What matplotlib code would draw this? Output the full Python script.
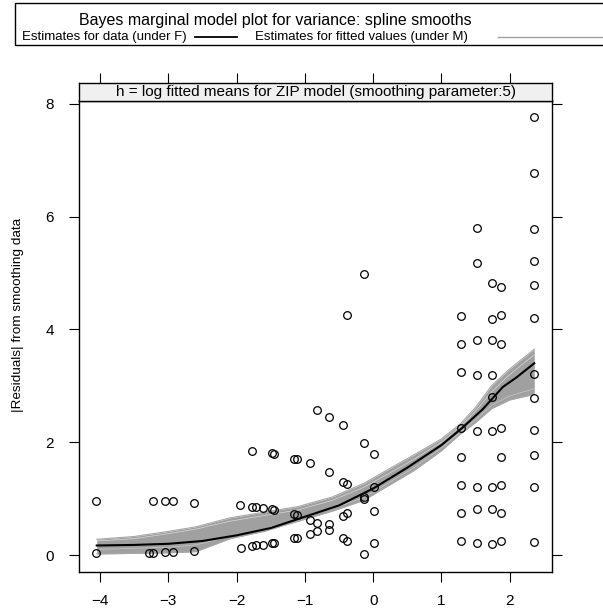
"""
Bayes marginal model plot for variance (lattice-style panel)
"""
import matplotlib
matplotlib.use("Agg")
import matplotlib.pyplot as plt
from matplotlib.patches import Rectangle
from matplotlib.lines import Line2D

plt.rcParams['font.family'] = ['Liberation Sans', 'DejaVu Sans']

# observed |residuals| vs log fitted means
x_obs = [-4.06, -4.06,
         -3.29, -3.23, -3.23, -3.05, -3.05, -2.93, -2.93, -2.63, -2.63,
         -1.95, -1.94, -1.77, -1.77, -1.71, -1.61, -1.48, -1.45,
         -1.77, -1.71, -1.61, -1.48, -1.45, -1.48, -1.45,
         -1.16, -1.11, -1.16, -1.11, -1.16, -1.11,
         -0.92, -0.92, -0.92, -0.82, -0.82, -0.82,
         -0.64, -0.64, -0.64, -0.64,
         -0.44, -0.44, -0.39, -0.44, -0.39, -0.44, -0.39, -0.39,
         -0.14, -0.14, -0.14, -0.14, -0.14,
         0.01, 0.01, 0.01, 0.01,
         1.28, 1.28, 1.28, 1.28, 1.28, 1.28, 1.28, 1.28,
         1.52, 1.52, 1.52, 1.52, 1.52, 1.52, 1.52, 1.52,
         1.74, 1.74, 1.74, 1.74, 1.74, 1.74, 1.74, 1.74, 1.74,
         1.87, 1.87, 1.87, 1.87, 1.87, 1.87, 1.87, 1.87,
         2.36, 2.36, 2.36, 2.36, 2.36, 2.36, 2.36, 2.36, 2.36, 2.36, 2.36, 2.36]
y_obs = [0.96, 0.04,
         0.04, 0.04, 0.96, 0.96, 0.05, 0.96, 0.05, 0.93, 0.07,
         0.88, 0.12, 1.85, 0.86, 0.85, 0.83, 0.81, 0.80,
         0.16, 0.17, 0.18, 0.21, 0.21, 1.81, 1.80,
         1.71, 1.70, 0.73, 0.71, 0.30, 0.30,
         1.63, 0.62, 0.38, 2.57, 0.57, 0.43,
         2.45, 1.47, 0.55, 0.45,
         2.30, 1.30, 1.26, 0.69, 0.74, 0.31, 0.25, 4.26,
         4.99, 1.99, 1.03, 0.99, 0.02,
         1.79, 1.21, 0.79, 0.21,
         4.24, 3.74, 3.24, 2.25, 1.74, 1.24, 0.74, 0.25,
         5.80, 5.18, 3.81, 3.19, 2.20, 1.21, 0.82, 0.21,
         4.82, 4.18, 3.81, 3.19, 2.81, 2.20, 1.20, 0.82, 0.20,
         4.75, 4.26, 3.74, 2.25, 1.74, 1.25, 0.75, 0.25,
         7.77, 6.78, 5.78, 5.21, 4.78, 4.21, 3.21, 2.78, 2.22, 1.77, 1.21, 0.23]

# spline smooth for data (under F)
x_fit = [-4.05, -3.5, -3.0, -2.5, -2.0, -1.5, -1.0, -0.5, 0.0, 0.5, 1.0, 1.3, 1.6, 1.9, 2.1, 2.36]
y_fit = [0.17, 0.18, 0.20, 0.25, 0.35, 0.48, 0.68, 0.88, 1.18, 1.55, 1.95, 2.25, 2.58, 2.98, 3.15, 3.40]

# range of smooths for fitted values (under M)
x_band = [-4.05, -3.5, -3.0, -2.6, -2.1, -1.6, -1.1, -0.6, -0.14, 0.25, 0.6, 1.0, 1.28, 1.5, 1.74, 2.0, 2.36]
band_hi = [0.28, 0.33, 0.42, 0.50, 0.66, 0.76, 0.86, 1.03, 1.27, 1.54, 1.78, 2.06, 2.33, 2.62, 3.01, 3.30, 3.65]
band_lo = [0.02, 0.03, 0.04, 0.06, 0.29, 0.42, 0.60, 0.78, 0.97, 1.25, 1.50, 1.85, 2.15, 2.35, 2.60, 2.75, 2.85]
# a couple of individual light smooths visible inside the band
light_1 = [0.25, 0.29, 0.38, 0.46, 0.60, 0.70, 0.80, 0.97, 1.20, 1.46, 1.70, 2.00, 2.28, 2.55, 2.90, 3.20, 3.55]
light_2 = [0.10, 0.12, 0.14, 0.18, 0.33, 0.46, 0.64, 0.82, 1.02, 1.30, 1.55, 1.90, 2.18, 2.40, 2.66, 2.82, 2.95]

xticks = [-4, -3, -2, -1, 0, 1, 2]
yticks = [0, 2, 4, 6, 8]

W, H = 603, 609
fig = plt.figure(figsize=(W / 100, H / 100), dpi=100)

left, right = 79 / W, 552 / W
ax = fig.add_axes([left, 1 - 572 / H, right - left, (572 - 101) / H])
strip = fig.add_axes([left, 1 - 101 / H, right - left, 18 / H])

ax.fill_between(x_band, band_lo, band_hi, color='#a0a0a0', lw=0, zorder=1)
ax.plot(x_band, band_hi, color='#a8a8a8', lw=0.8, zorder=1)
ax.plot(x_band, band_lo, color='#a8a8a8', lw=0.8, zorder=1)
ax.plot(x_band, light_1, color='#d8d8d8', lw=0.5, zorder=1)
ax.plot(x_band, light_2, color='#c8c8c8', lw=0.5, zorder=1)
ax.plot(x_fit, y_fit, color='black', lw=1.5, zorder=2)
ax.plot(x_obs, y_obs, 'o', ms=5.5, mfc='none', mec='black', mew=0.9, zorder=3)

ax.set_xlim(-4.31, 2.62)
ax.set_ylim(-0.30, 8.05)
ax.set_xticks(xticks)
ax.set_yticks(yticks)
ax.set_xticklabels([str(t).replace('-', '\u2212') for t in xticks])
ax.tick_params(direction='out', length=7, width=0.8, labelsize=11, right=True,
               top=False)
ax.tick_params(axis='x', pad=9)
ax.tick_params(axis='y', pad=11)
ax.set_ylabel('|Residuals| from smoothing data', fontsize=9.7)
ax.yaxis.set_label_coords(-0.117, 0.546)
for s in ax.spines.values():
    s.set_linewidth(1.0)

strip.set_facecolor('#f0f0f0')
strip.set_xlim(ax.get_xlim())
strip.set_ylim(0, 1)
strip.set_xticks(xticks)
strip.set_yticks([])
strip.tick_params(axis='x', direction='out', length=7, width=0.8, top=True,
                  bottom=False, labeltop=False, labelbottom=False)
for s in strip.spines.values():
    s.set_linewidth(1.0)
strip.text(0.5, 0.5, 'h = log fitted means for ZIP model (smoothing parameter:5)',
           transform=strip.transAxes, ha='center', va='center', fontsize=11)

# title / key box on top
fig.patches.append(Rectangle((15 / W, 1 - 45 / H), 600 / W, 42 / H, fill=False,
                             ec='black', lw=1.0, transform=fig.transFigure))
fig.text(275 / W, 1 - 20 / H, 'Bayes marginal model plot for variance: spline smooths',
         ha='center', va='center', fontsize=11.5)
fig.text(22 / W, 1 - 37 / H, 'Estimates for data (under F)', ha='left', va='center',
         fontsize=9.5)
fig.lines.append(Line2D([195 / W, 237 / W], [1 - 37 / H, 1 - 37 / H], color='black',
                        lw=1.3, transform=fig.transFigure))
fig.text(255 / W, 1 - 37 / H, 'Estimates for fitted values (under M)', ha='left',
         va='center', fontsize=9.5)
fig.lines.append(Line2D([498 / W, 1.0], [1 - 37 / H, 1 - 37 / H], color='#a0a0a0',
                        lw=1.0, transform=fig.transFigure))

fig.savefig('out.png', dpi=100)
